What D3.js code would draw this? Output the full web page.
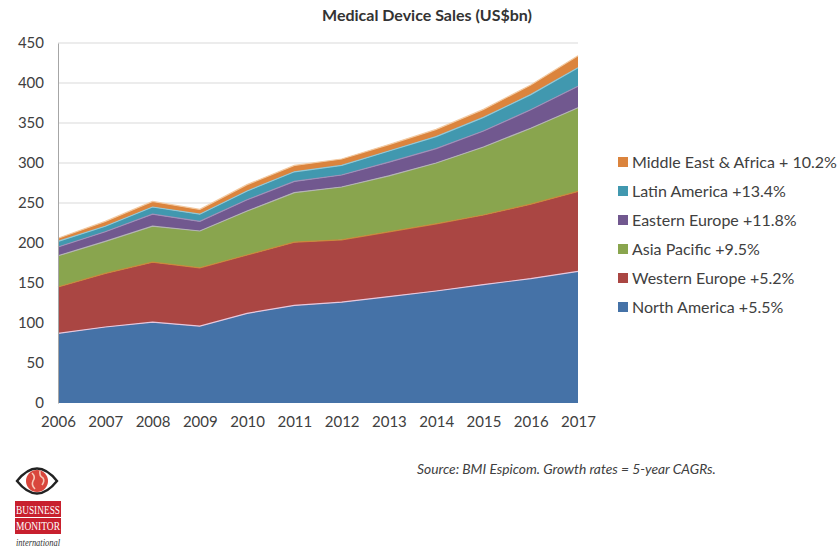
<!DOCTYPE html>
<html>
<head>
<meta charset="utf-8">
<script src="https://cdn.jsdelivr.net/npm/d3@7"></script>
<style>
  html, body { margin: 0; padding: 0; background: #fff; }
  svg { display: block; }
</style>
</head>
<body>
<svg id="chart" width="837" height="550"></svg>
<script>
// Medical device sales by region, US$bn
const years = [2006, 2007, 2008, 2009, 2010, 2011, 2012, 2013, 2014, 2015, 2016, 2017];
const northAmerica = [87, 95, 101, 96, 112, 122, 126, 133, 140, 148, 155.5, 164.5];
const westernEurope = [58, 67, 75, 73, 73, 79, 78, 81, 84, 87, 93, 100];
const asiaPacific = [39, 40, 45, 46, 55, 62, 66, 70, 76, 85, 95, 104.5];
const easternEurope = [11, 12, 15, 12, 14, 14, 15, 17, 18, 20, 23, 27];
const latinAmerica = [7, 7, 9, 9, 11, 12, 12, 14, 15, 17, 19, 23];
const middleEastAfrica = [4, 6, 7, 6, 8, 8, 8, 8, 9, 10, 12, 15];

const seriesNames = ["North America +5.5%", "Western Europe +5.2%", "Asia Pacific +9.5%",
  "Eastern Europe +11.8%", "Latin America +13.4%", "Middle East & Africa + 10.2%"];
const yTicks = [0, 50, 100, 150, 200, 250, 300, 350, 400, 450];

const fills = ["#4572a7", "#aa4643", "#89a54e", "#71588f", "#4198af", "#db843d"];
const edges = ["#e6c8de", "#c98a3c", "#b4b4b4", "#a090b8", "#90c8d8", "#f2c9a0"];

const svg = d3.select("#chart");
const font = "Lato, 'Open Sans', sans-serif";

const x = d3.scalePoint().domain(years).range([58, 578]);
const y = d3.scaleLinear().domain([0, 450]).range([403, 43]);

// rows for the stack
const keys = ["na", "we", "ap", "ee", "la", "mea"];
const cols = [northAmerica, westernEurope, asiaPacific, easternEurope, latinAmerica, middleEastAfrica];
const rows = years.map((yr, i) => {
  const r = { year: yr };
  keys.forEach((k, j) => r[k] = cols[j][i]);
  return r;
});
const stacked = d3.stack().keys(keys)(rows);

// gridlines
svg.append("g")
  .selectAll("line")
  .data(yTicks.filter(t => t > 0))
  .join("line")
  .attr("x1", 58).attr("x2", 578)
  .attr("y1", d => y(d)).attr("y2", d => y(d))
  .attr("stroke", "#d9d9d9").attr("stroke-width", 1);

// stacked areas
const area = d3.area()
  .x(d => x(d.data.year))
  .y0(d => y(d[0]))
  .y1(d => y(d[1]));
const topLine = d3.line()
  .x(d => x(d.data.year))
  .y(d => y(d[1]));

svg.append("g")
  .selectAll("path")
  .data(stacked)
  .join("path")
  .attr("d", area)
  .attr("fill", (d, i) => fills[i]);

svg.append("g")
  .selectAll("path")
  .data(stacked)
  .join("path")
  .attr("d", topLine)
  .attr("fill", "none")
  .attr("stroke", (d, i) => edges[i])
  .attr("stroke-width", 1.2);

// y axis
const yAxis = svg.append("g")
  .attr("transform", "translate(58,0)")
  .call(d3.axisLeft(y).tickValues(yTicks).tickSize(0).tickPadding(14));
yAxis.select(".domain").attr("stroke", "#a6a6a6");
yAxis.selectAll("text")
  .attr("font-family", font).attr("font-size", 15).attr("fill", "#404040");

// x axis
const xAxis = svg.append("g")
  .attr("transform", "translate(0,403)")
  .call(d3.axisBottom(x).tickSize(0).tickPadding(13));
xAxis.select(".domain").remove();
xAxis.selectAll("text")
  .attr("font-family", font).attr("font-size", 15).attr("fill", "#404040");

// title
svg.append("text")
  .attr("x", 427).attr("y", 21)
  .attr("text-anchor", "middle")
  .attr("font-family", font).attr("font-weight", "bold").attr("font-size", 16)
  .attr("fill", "#333")
  .text("Medical Device Sales (US$bn)");

// legend, top entry is the top layer
const legend = svg.append("g");
const legendItems = seriesNames.map((n, i) => ({ name: n, color: fills[i] })).reverse();
const lg = legend.selectAll("g")
  .data(legendItems)
  .join("g")
  .attr("transform", (d, i) => `translate(618,${162 + i * 29})`);
lg.append("rect")
  .attr("x", 0).attr("y", -5).attr("width", 10).attr("height", 10)
  .attr("fill", d => d.color);
lg.append("text")
  .attr("x", 14).attr("y", 5.5)
  .attr("font-family", font).attr("font-size", 16).attr("fill", "#404040")
  .text(d => d.name);

// source note
svg.append("text")
  .attr("x", 417).attr("y", 474)
  .attr("font-family", font).attr("font-style", "italic").attr("font-size", 13.8)
  .attr("fill", "#404040")
  .text("Source: BMI Espicom. Growth rates = 5-year CAGRs.");

// publisher mark
const logo = svg.append("g").attr("transform", "translate(15,462)");
logo.append("path")
  .attr("d", "M2,19 Q22,-6 42,19 Q22,44 2,19 Z")
  .attr("fill", "#fff").attr("stroke", "#222").attr("stroke-width", 2.4);
logo.append("circle").attr("cx", 22).attr("cy", 19).attr("r", 11).attr("fill", "#d9463c");
logo.append("path")
  .attr("d", "M17,11 q4,4 1,8 q-2,4 2,8 M25,9 q-1,5 3,7 q2,3 -1,7")
  .attr("fill", "none").attr("stroke", "#f6c9b8").attr("stroke-width", 1.6);
logo.append("rect").attr("x", 0).attr("y", 39).attr("width", 46).attr("height", 33).attr("fill", "#c8202e");
logo.append("line").attr("x1", 0).attr("x2", 46).attr("y1", 55.5).attr("y2", 55.5)
  .attr("stroke", "#fff").attr("stroke-width", 1);
logo.append("text").attr("x", 23).attr("y", 52).attr("text-anchor", "middle")
  .attr("font-family", "'Liberation Serif', serif").attr("font-size", 12.5)
  .attr("textLength", 44).attr("lengthAdjust", "spacingAndGlyphs")
  .attr("fill", "#fff").text("BUSINESS");
logo.append("text").attr("x", 23).attr("y", 68).attr("text-anchor", "middle")
  .attr("font-family", "'Liberation Serif', serif").attr("font-size", 12.5)
  .attr("textLength", 44).attr("lengthAdjust", "spacingAndGlyphs")
  .attr("fill", "#fff").text("MONITOR");
logo.append("text").attr("x", 1).attr("y", 84)
  .attr("font-family", "'Liberation Serif', serif").attr("font-style", "italic").attr("font-size", 10)
  .attr("textLength", 44).attr("lengthAdjust", "spacingAndGlyphs")
  .attr("fill", "#333").text("international");
</script>
</body>
</html>
